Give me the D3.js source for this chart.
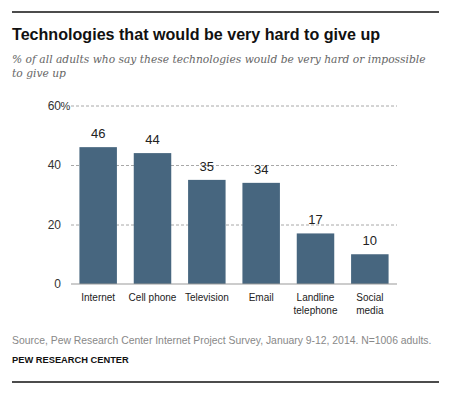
<!DOCTYPE html>
<html>
<head>
<meta charset="utf-8">
<script src="https://cdn.jsdelivr.net/npm/d3@7"></script>
<style>
  html, body { margin: 0; padding: 0; background: #fff; }
  svg { display: block; }
</style>
</head>
<body>
<svg width="461" height="397"></svg>
<script>
// data
const categories = [['Internet'], ['Cell phone'], ['Television'], ['Email'], ['Landline', 'telephone'], ['Social', 'media']];
const values = [46, 44, 35, 34, 17, 10];
const yTicks = [0, 20, 40, 60];

const svg = d3.select('svg');
const sans = 'Liberation Sans, Arial, sans-serif';

// frame lines
svg.append('line').attr('x1', 12).attr('x2', 439).attr('y1', 12).attr('y2', 12)
  .attr('stroke', '#111').attr('stroke-width', 1.3);
svg.append('line').attr('x1', 12).attr('x2', 439).attr('y1', 382).attr('y2', 382)
  .attr('stroke', '#111').attr('stroke-width', 1.3);

// title + subtitle
svg.append('text')
  .attr('x', 12).attr('y', 40)
  .attr('font-family', sans)
  .attr('font-weight', 'bold')
  .attr('font-size', 16.1)
  .attr('fill', '#111')
  .text('Technologies that would be very hard to give up');

const sub = svg.append('text')
  .attr('font-family', 'DejaVu Serif, Georgia, serif')
  .attr('font-style', 'italic')
  .attr('font-size', 10.7)
  .attr('fill', '#666');
sub.append('tspan').attr('x', 12).attr('y', 63)
  .text('% of all adults who say these technologies would be very hard or impossible');
sub.append('tspan').attr('x', 12).attr('y', 77).text('to give up');

// scales
const x = d3.scaleBand()
  .domain(d3.range(categories.length))
  .range([71, 397])
  .paddingInner(0.31)
  .paddingOuter(0.155);

const y = d3.scaleLinear().domain([0, 60]).range([284, 105.5]);

// grid
const grid = svg.append('g')
  .attr('transform', 'translate(71,0)')
  .call(d3.axisLeft(y).tickValues(yTicks.filter(d => d > 0)).tickSize(-326).tickFormat(() => ''));
grid.select('.domain').remove();
grid.selectAll('.tick line')
  .attr('stroke', '#a8a8a8').attr('stroke-dasharray', '3,2').attr('stroke-width', 1);

// y labels
const yl = svg.append('g')
  .attr('font-family', sans)
  .attr('font-size', 12)
  .attr('fill', '#333');
yl.selectAll('text.num')
  .data(yTicks)
  .enter()
  .append('text')
    .attr('class', 'num')
    .attr('x', 61)
    .attr('y', d => y(d) + 4)
    .attr('text-anchor', 'end')
    .text(d => d);
yl.append('text')
  .attr('x', 60.5).attr('y', y(60) + 4)
  .attr('font-size', 11)
  .text('%');

// bars
svg.append('g')
  .selectAll('rect')
  .data(values)
  .enter()
  .append('rect')
    .attr('x', (d, i) => x(i))
    .attr('y', d => y(d))
    .attr('width', x.bandwidth())
    .attr('height', d => y(0) - y(d))
    .attr('fill', '#47667f');

// baseline
svg.append('line')
  .attr('x1', 71).attr('x2', 397)
  .attr('y1', y(0)).attr('y2', y(0))
  .attr('stroke', '#999').attr('stroke-width', 1.2);

// value labels
svg.append('g')
  .selectAll('text')
  .data(values)
  .enter()
  .append('text')
    .attr('x', (d, i) => x(i) + x.bandwidth() / 2)
    .attr('y', d => y(d) - 9)
    .attr('text-anchor', 'middle')
    .attr('font-family', sans)
    .attr('font-size', 13)
    .attr('fill', '#222')
    .text(d => d);

// category labels
const cl = svg.append('g')
  .attr('font-family', sans)
  .attr('font-size', 10)
  .attr('fill', '#222')
  .attr('text-anchor', 'middle');
cl.selectAll('text')
  .data(categories)
  .enter()
  .append('text')
    .attr('transform', (d, i) => `translate(${x(i) + x.bandwidth() / 2},301)`)
    .selectAll('tspan')
    .data(d => d)
    .enter()
    .append('tspan')
      .attr('x', 0)
      .attr('y', (d, i) => i * 13)
      .text(d => d);

// source + credit
svg.append('text')
  .attr('x', 12).attr('y', 344)
  .attr('font-family', sans)
  .attr('font-size', 10.4)
  .attr('fill', '#888')
  .text('Source, Pew Research Center Internet Project Survey, January 9-12, 2014. N=1006 adults.');

svg.append('text')
  .attr('x', 12).attr('y', 363)
  .attr('font-family', sans)
  .attr('font-weight', 'bold')
  .attr('font-size', 9.3)
  .attr('fill', '#111')
  .text('PEW RESEARCH CENTER');
</script>
</body>
</html>
